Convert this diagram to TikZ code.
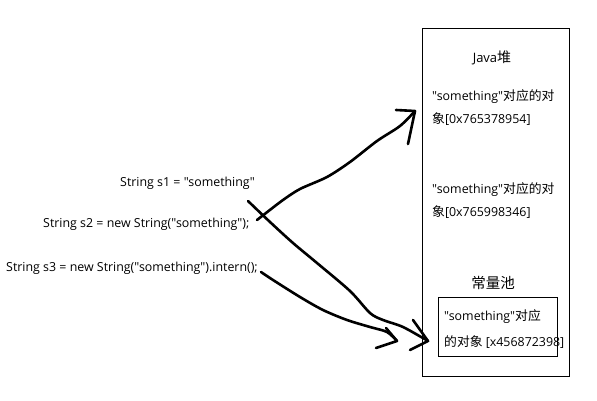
\documentclass[tikz,border=0pt]{standalone}
\usepackage{fontspec}
\setmainfont{Open Sans}[Ligatures=TeXOff]
\newfontfamily\cjk{Noto Sans CJK SC}[Ligatures=TeXOff]
\newcommand{\zh}[1]{{\cjk\fontsize{12.8}{15}\selectfont #1}}
\begin{document}
\begin{tikzpicture}[x=1pt,y=-1pt,
  txt/.style={inner sep=0pt,anchor=west,font=\fontsize{12.4}{14}\selectfont},
  ctr/.style={inner sep=0pt,font=\fontsize{13}{15}\selectfont},
  box/.style={draw,line width=0.9pt},
  hand/.style={line width=2.6pt,line cap=round,line join=round}]
\useasboundingbox (0,0) rectangle (597,401);
% boxes
\node[box,minimum width=147pt,minimum height=348pt,anchor=north west,inner sep=0pt] (heap) at (422,28) {};
\node[box,minimum width=119pt,minimum height=59pt,anchor=north west,inner sep=0pt] (pool) at (438,297) {};
% texts
\node[ctr] (heapt) at (492,58) {Java{\cjk\fontsize{14}{16}\selectfont 堆}};
\node[txt] (o1a) at (432,97) {"something"\zh{对应的对}};
\node[txt] (o1b) at (432,119) {\zh{象}[0x765378954]};
\node[txt] (o2a) at (432,190) {"something"\zh{对应的对}};
\node[txt] (o2b) at (432,212) {\zh{象}[0x765998346]};
\node[ctr] (poolt) at (493,283) {{\cjk\fontsize{14.5}{16}\selectfont 常量池}};
\node[txt] (o3a) at (444,317) {"something"\zh{对应}};
\node[txt] (o3b) at (444,342) {\zh{的对象} [x456872398]};
\node[txt] (s1) at (120,183) {String s1 = "something"};
\node[txt] (s2) at (43,224) {String s2 = new String("something");};
\node[txt] (s3) at (6,268) {String s3 = new String("something").intern();};
% arrow tips
\coordinate (t1) at (415,111);
\coordinate (t2) at (428,341);
\coordinate (t3) at (397,341);
% stroke 1: s2 -> heap object 1
\draw[hand] plot[smooth,tension=0.5] coordinates {(257,220) (266,213) (283,200) (300,189) (327,177) (350,162) (377,141) (400,126) (t1)};
\draw[hand] (396,110) -- (t1) -- (408,144);
% stroke 2: s1 -> pool object
\draw[hand] plot[smooth,tension=0.5] coordinates {(248,201) (270,222) (293,243) (317,263) (350,291) (370,313) (383,320) (403,327) (t2)};
\draw[hand] (413,320) -- (t2) -- (410,350);
% stroke 3: s3 -> pool object
\draw[hand] plot[smooth,tension=0.5] coordinates {(261,272) (273,280) (300,297) (323,310) (347,320) (370,327) (387,332) (t3)};
\draw[hand] (386,328) -- (t3) -- (376,348);
\end{tikzpicture}
\end{document}
